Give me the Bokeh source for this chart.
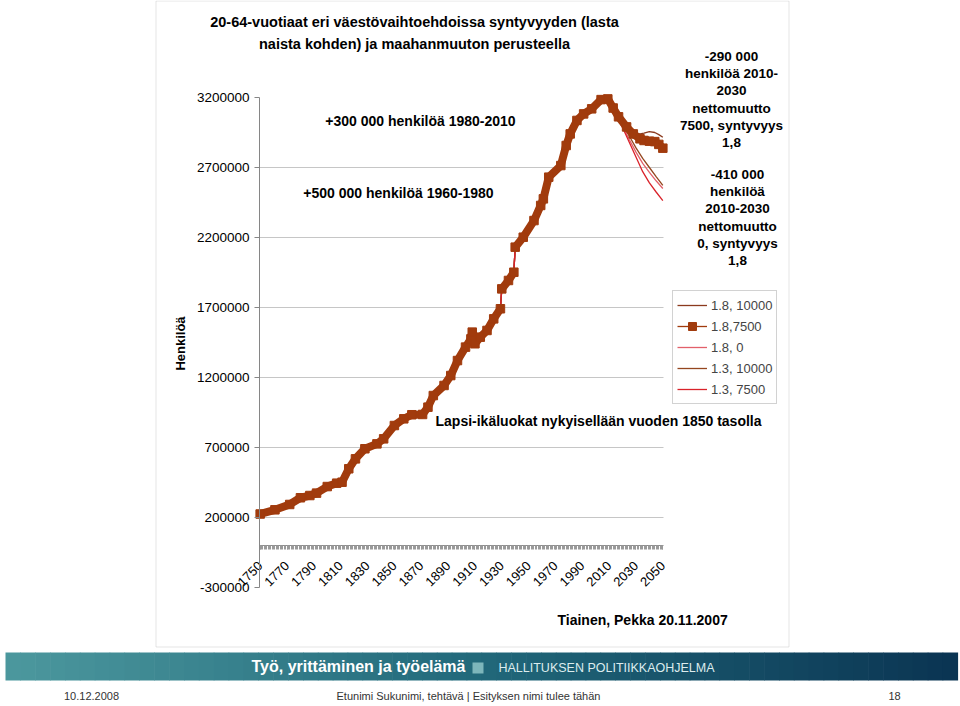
from math import pi
from bokeh.plotting import figure
from bokeh.models import (Range1d, FixedTicker, LinearAxis, Label, BoxAnnotation,
                          Legend, LegendItem)
from bokeh.embed import file_html
from bokeh.resources import INLINE

# ---------------- data ----------------
hist_years = [1750, 1761, 1772, 1780, 1787, 1792, 1800, 1807, 1811, 1816, 1821, 1828, 1837,
              1842, 1850, 1857, 1863, 1871, 1875, 1879, 1887, 1892, 1897, 1903, 1907, 1908,
              1910, 1914, 1919, 1924, 1929, 1930, 1935, 1939, 1940, 1946, 1954, 1959, 1961,
              1965, 1974, 1978, 1981, 1986, 1991, 1997, 2004, 2009]
hist_values = [225000, 255000, 293000, 341000, 357000, 374000, 421000, 445000, 452000, 548000,
               619000, 691000, 726000, 762000, 857000, 905000, 934000, 936000, 988000, 1071000,
               1143000, 1214000, 1321000, 1417000, 1476000, 1524000, 1441000, 1488000, 1536000,
               1619000, 1691000, 1833000, 1893000, 1952000, 2131000, 2202000, 2321000, 2429000,
               2476000, 2631000, 2714000, 2857000, 2940000, 3036000, 3083000, 3119000, 3185000,
               3190000]

# projection 1.8, 7500
main_proj_years = [2013, 2017, 2023, 2028, 2033, 2036, 2040, 2044, 2047, 2050]
main_proj_values = [3125000, 3062000, 2990000, 2940000, 2905000, 2893000, 2888000, 2885000,
                    2865000, 2838000]

# projection 1.8, 10000
s18_10000_years = [2013, 2017, 2023, 2028, 2033, 2036, 2040, 2044, 2047, 2050]
s18_10000_values = [3125000, 3065000, 2995000, 2945000, 2940000, 2945000, 2957000, 2950000,
                    2935000, 2916000]

scen_years = [2013, 2017, 2020, 2025, 2030, 2035, 2040, 2045, 2050]
s18_0_values = [3125000, 3045000, 2995000, 2900000, 2810000, 2730000, 2665000, 2605000, 2550000]
s13_10000_values = [3125000, 3050000, 3005000, 2925000, 2840000, 2765000, 2700000, 2635000, 2572000]
s13_7500_values = [3125000, 3040000, 2985000, 2880000, 2775000, 2670000, 2590000, 2525000, 2464000]

series_names = ["1.8, 10000", "1.8,7500", "1.8, 0", "1.3, 10000", "1.3, 7500"]

y_ticks = [-300000, 200000, 700000, 1200000, 1700000, 2200000, 2700000, 3200000]
y_tick_labels = ["-300000", "200000", "700000", "1200000", "1700000", "2200000", "2700000",
                 "3200000"]
y_grid = [200000, 700000, 1200000, 1700000, 2200000, 2700000]
x_ticks = [1750, 1770, 1790, 1810, 1830, 1850, 1870, 1890, 1910, 1930, 1950, 1970, 1990,
           2010, 2030, 2050]
x_first, x_last = 1750, 2050
y_min, y_max = -300000, 3200000

title_lines = ["20-64-vuotiaat eri väestövaihtoehdoissa syntyvyyden (lasta",
               "naista kohden) ja maahanmuuton perusteella"]
note_top = ["-290 000", "henkilöä 2010-", "2030", "nettomuutto", "7500, syntyvyys", "1,8"]
note_low = ["-410 000", "henkilöä", "2010-2030", "nettomuutto", "0, syntyvyys", "1,8"]

# ---------------- layout / styles ----------------
W, H = 960, 706
PL, PR, PT, PB = 259, 663, 97, 587          # plot-area edges in pixels
FONT = "Liberation Sans"
C_MAIN = "#a13b0d"
C_18_10000 = "#8b3a1e"
C_18_0 = "#e2606a"
C_13_10000 = "#94461f"
C_13_7500 = "#d9222a"

xa, xb = x_first - 0.5, x_last + 0.5
kx = (xb - xa) / (PR - PL)
ky = (y_max - y_min) / (PB - PT)
p = figure(width=W, height=H, output_backend="svg", toolbar_location=None,
           x_range=Range1d(xa - PL * kx, xb + (W - PR) * kx),
           y_range=Range1d(y_min - (H - PB) * ky, y_max + PT * ky),
           x_axis_location=None, y_axis_location=None,
           min_border=0, min_border_left=0, min_border_right=0,
           min_border_top=0, min_border_bottom=0)
p.outline_line_color = None
p.background_fill_color = "white"
p.border_fill_color = "white"
p.grid.visible = False

# pixel helper ranges for decorations
p.extra_x_ranges = {"px": Range1d(0, W)}
p.extra_y_ranges = {"py": Range1d(H, 0)}

# outer chart box
p.add_layout(BoxAnnotation(left=155.5, right=788.5, top=0.5, bottom=646.5,
                           x_range_name="px", y_range_name="py",
                           fill_alpha=0, line_color="#a6a6a6", line_width=1))

# grid lines across the plot area
p.segment(x0=[xa] * len(y_grid), y0=y_grid, x1=[xb] * len(y_grid), y1=y_grid,
          line_color="#c6c6c6", line_width=1)

# axes
yaxis = LinearAxis(ticker=FixedTicker(ticks=y_ticks), fixed_location=xa,
                   bounds=(y_min, y_max))
yaxis.major_label_overrides = {t: s for t, s in zip(y_ticks, y_tick_labels)}
yaxis.axis_line_color = "#868686"
yaxis.major_tick_line_color = "#868686"
yaxis.major_tick_out = 5
yaxis.major_tick_in = 0
yaxis.minor_tick_line_color = None
yaxis.major_label_text_font = FONT
yaxis.major_label_text_font_size = "13.5px"
yaxis.major_label_text_color = "#000000"
yaxis.major_label_standoff = 5
p.add_layout(yaxis, "left")

xaxis = LinearAxis(ticker=FixedTicker(ticks=x_ticks, minor_ticks=list(range(x_first, x_last + 1))),
                   fixed_location=0, bounds=(xa, xb))
xaxis.axis_line_color = "#8c8c8c"
xaxis.major_tick_line_color = "#9a9a9a"
xaxis.minor_tick_line_color = "#9a9a9a"
xaxis.major_tick_out = 4
xaxis.major_tick_in = 0
xaxis.minor_tick_out = 4
xaxis.minor_tick_in = 0
xaxis.major_label_orientation = pi / 4
xaxis.major_label_text_font = FONT
xaxis.major_label_text_font_size = "13px"
xaxis.major_label_text_color = "#000000"
xaxis.major_label_standoff = 14
p.add_layout(xaxis, "below")

# ---------------- series ----------------
main_x = hist_years + main_proj_years
main_y = hist_values + main_proj_values

r_b_line = p.line(main_x, main_y, line_color=C_MAIN, line_width=1.3)
r_a = p.line(hist_years + s18_10000_years, hist_values + s18_10000_values,
             line_color=C_18_10000, line_width=1.3)
r_c = p.line(hist_years + scen_years, hist_values + s18_0_values,
             line_color=C_18_0, line_width=1.3)
r_d = p.line(hist_years + scen_years, hist_values + s13_10000_values,
             line_color=C_13_10000, line_width=1.3)
r_e = p.line(hist_years + scen_years, hist_values + s13_7500_values,
             line_color=C_13_7500, line_width=1.3)

# thick band, broken where the series jumps
seg_xs, seg_ys = [[main_x[0]]], [[main_y[0]]]
for i in range(1, len(main_x)):
    if main_y[i] - main_y[i - 1] > 100000 and main_x[i] - main_x[i - 1] <= 1:
        seg_xs.append([])
        seg_ys.append([])
    seg_xs[-1].append(main_x[i])
    seg_ys[-1].append(main_y[i])
p.multi_line(seg_xs, seg_ys, line_color=C_MAIN, line_width=8)
r_b = p.scatter(main_x, main_y, marker="square", size=8.5, fill_color=C_MAIN,
                line_color=C_MAIN)

legend = Legend(items=[
    LegendItem(label=series_names[0], renderers=[r_a]),
    LegendItem(label=series_names[1], renderers=[r_b_line, r_b]),
    LegendItem(label=series_names[2], renderers=[r_c]),
    LegendItem(label=series_names[3], renderers=[r_d]),
    LegendItem(label=series_names[4], renderers=[r_e]),
], location=(672, H - 404))
legend.border_line_color = "#a6a6a6"
legend.background_fill_color = "white"
legend.background_fill_alpha = 1
legend.label_text_font = FONT
legend.label_text_font_size = "13px"
legend.glyph_width = 30
legend.glyph_height = 20
legend.label_height = 20
legend.spacing = 1
legend.padding = 4
legend.margin = 0
legend.label_standoff = 4
p.add_layout(legend)

# ---------------- texts ----------------
def lab(x, y, text, size="13px", bold=True, align="center", color="#000000", font=FONT, angle=0):
    p.add_layout(Label(x=x, y=y, text=text, x_range_name="px", y_range_name="py",
                       text_font=font, text_font_size=size, angle=angle,
                       text_font_style="bold" if bold else "normal",
                       text_align=align, text_baseline="middle", text_color=color))

lab(414, 21, title_lines[0], size="14.5px")
lab(414, 43, title_lines[1], size="14.5px")
for i, t in enumerate(note_top):
    lab(731, 56 + i * 17.2, t, size="13.5px")
for i, t in enumerate(note_low):
    lab(737, 174 + i * 17.2, t, size="13.5px")
lab(420, 120, "+300 000 henkilöä 1980-2010", size="14px")
lab(398, 192, "+500 000 henkilöä 1960-1980", size="14px")
lab(435, 420, "Lapsi-ikäluokat nykyisellään vuoden 1850 tasolla", size="14px", align="left")
lab(557, 619, "Tiainen, Pekka 20.11.2007", size="14px", align="left")
lab(180, 343, "Henkilöä", size="13px", angle=pi / 2)

# ---------------- slide banner & footer ----------------
stops = [(5, (76, 152, 158)), (480, (33, 104, 122)), (957, (10, 52, 82))]
n = 64
for i in range(n):
    x0 = 5 + (957 - 5) * i / n
    x1 = 5 + (957 - 5) * (i + 1) / n
    xm = (x0 + x1) / 2
    if xm <= stops[1][0]:
        a, b = stops[0], stops[1]
    else:
        a, b = stops[1], stops[2]
    f = (xm - a[0]) / (b[0] - a[0])
    col = tuple(int(round(a[1][k] + (b[1][k] - a[1][k]) * f)) for k in range(3))
    p.add_layout(BoxAnnotation(left=x0, right=x1 + 0.6, top=652, bottom=680,
                               x_range_name="px", y_range_name="py",
                               fill_color="#%02x%02x%02x" % col, fill_alpha=1,
                               line_color=None))
p.add_layout(BoxAnnotation(left=472, right=483, top=662, bottom=673,
                           x_range_name="px", y_range_name="py",
                           fill_color="#7db6bb", fill_alpha=1, line_color=None))
lab(358, 666, "Työ, yrittäminen ja työelämä", size="16px", bold=True, color="#ffffff")
lab(606, 667, "HALLITUKSEN POLITIIKKAOHJELMA", size="12.5px", bold=False, color="#dcecee")
lab(91, 695, "10.12.2008", size="11px", bold=False, color="#333333")
lab(468, 695, "Etunimi Sukunimi, tehtävä | Esityksen nimi tulee tähän", size="11px", bold=False,
    color="#333333")
lab(894, 695, "18", size="11px", bold=False, color="#333333")

open("out.html", "w").write(file_html(p, INLINE))
